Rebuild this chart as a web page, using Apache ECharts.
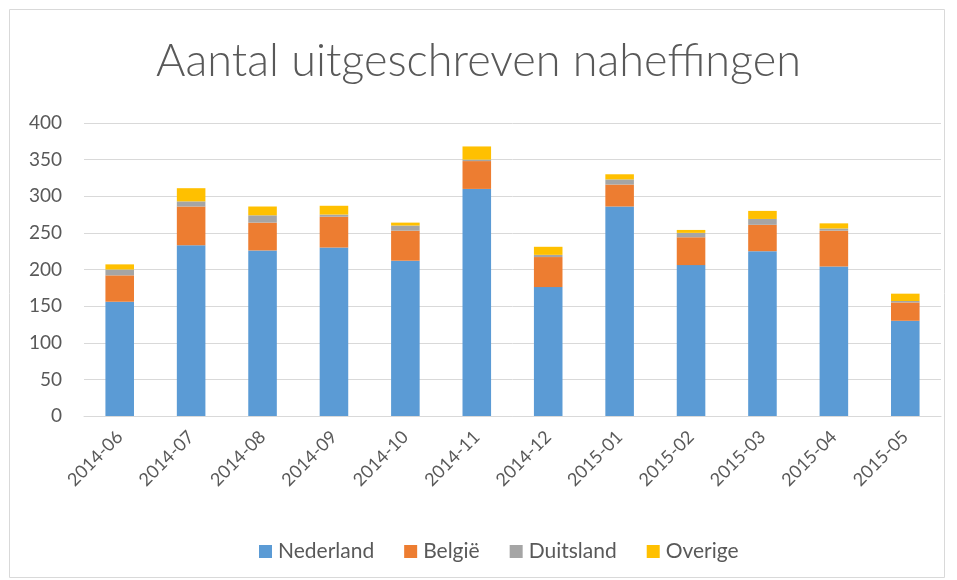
<!DOCTYPE html>
<html>
<head>
<meta charset="utf-8">
<script src="https://cdn.jsdelivr.net/npm/echarts@6/dist/echarts.min.js"></script>
<style>
    html, body { margin: 0; padding: 0; background: #fff; }
    #chart { width: 957px; height: 580px; }
</style>
</head>
<body>
<div id="chart"></div>
<script>
const months = ['2014-06', '2014-07', '2014-08', '2014-09', '2014-10', '2014-11',
    '2014-12', '2015-01', '2015-02', '2015-03', '2015-04', '2015-05'];
const nederland = [156, 233, 226, 230, 212, 310, 176, 286, 206, 225, 204, 130];
const belgie = [36, 53, 38, 42, 41, 38, 41, 30, 38, 36, 49, 25];
const duitsland = [8, 7, 10, 3, 7, 2, 3, 7, 6, 8, 3, 2];
const overige = [7, 18, 12, 12, 4, 18, 11, 7, 4, 11, 7, 10];
const yTicks = [0, 400, 50];

const textColor = '#595959';
const font = 'Lato';

let chart = echarts.init(document.getElementById('chart'));

const mkSeries = (name, data, color) => ({
    name: name,
    type: 'bar',
    stack: 'totaal',
    data: data,
    barWidth: '40%',
    itemStyle: {color: color},
    emphasis: {disabled: true}
});

let option = {
    animation: false,
    textStyle: {fontFamily: font},
    graphic: [{
        type: 'rect',
        shape: {x: 9.5, y: 9.5, width: 935, height: 568},
        style: {fill: 'none', stroke: '#d9d9d9', lineWidth: 1},
        silent: true
    }],
    title: {
        text: 'Aantal uitgeschreven naheffingen',
        left: 'center',
        top: 34,
        textStyle: {
            color: textColor,
            fontFamily: font,
            fontWeight: 300,
            fontSize: 45
        }
    },
    legend: {
        top: 536,
        left: 254,
        itemWidth: 13,
        itemHeight: 13,
        itemGap: 30,
        icon: 'rect',
        textStyle: {color: textColor, fontSize: 21, fontFamily: font, padding: [0, 0, 0, 1]}
    },
    grid: {
        left: 84,
        right: 16,
        top: 123,
        bottom: 164
    },
    xAxis: {
        type: 'category',
        data: months,
        axisLine: {lineStyle: {color: '#d9d9d9'}},
        axisTick: {show: false},
        axisLabel: {
            rotate: 45,
            color: textColor,
            fontSize: 18,
            margin: 18,
            fontFamily: font
        }
    },
    yAxis: {
        type: 'value',
        min: yTicks[0],
        max: yTicks[1],
        interval: yTicks[2],
        axisLine: {show: false},
        axisTick: {show: false},
        splitLine: {lineStyle: {color: '#d9d9d9', width: 1}},
        axisLabel: {color: textColor, fontSize: 19, margin: 22, fontFamily: font}
    },
    series: [
        mkSeries('Nederland', nederland, '#5B9BD5'),
        mkSeries('België', belgie, '#ED7D31'),
        mkSeries('Duitsland', duitsland, '#A5A5A5'),
        mkSeries('Overige', overige, '#FFC000')
    ]
};

chart.setOption(option);
</script>
</body>
</html>
